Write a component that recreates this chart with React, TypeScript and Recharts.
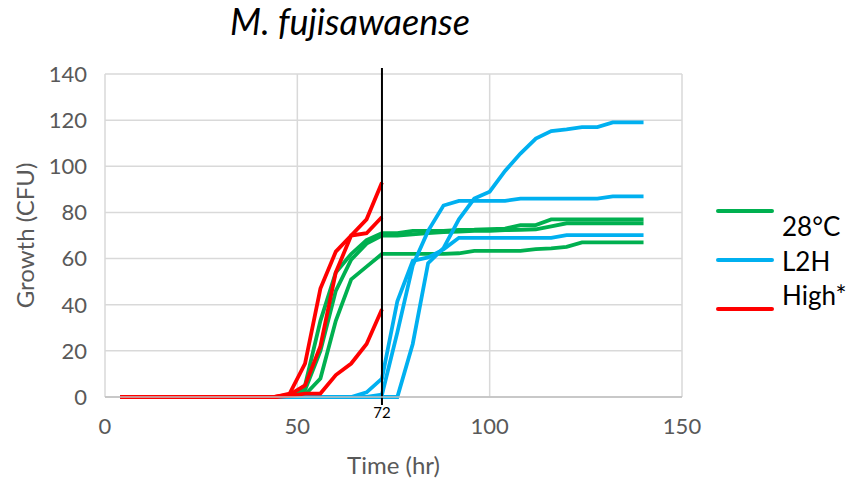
import { LineChart, Line, XAxis, YAxis, CartesianGrid, ReferenceLine, Label } from 'recharts';

document.body.style.margin = '0';

const FONT = 'Lato, "Open Sans", sans-serif';
const GREEN = '#00B050';
const BLUE = '#00B0F0';
const RED = '#FF0000';

// sampling times (hr)
const hours = [4, 8, 12, 16, 20, 24, 28, 32, 36, 40, 44, 48, 52, 56, 60, 64, 68, 72, 76, 80, 84, 88, 92, 96, 100, 104, 108, 112, 116, 120, 124, 128, 132, 136, 140];

// 28°C replicates
const warmA = [0, 0, 0, 0, 0, 0, 0, 0, 0, 0, 0, 0, 5, 33, 54, 62, 68, 71, 71, 72, 72, 72, 72.4, 72.5, 72.8, 73, 74.5, 74.5, 77, 77, 77, 77, 77, 77, 77];
const warmB = [0, 0, 0, 0, 0, 0, 0, 0, 0, 0, 0, 0, 3, 20, 46, 59.5, 66.5, 70, 70, 70.5, 71, 71.5, 71.7, 72, 72, 72.3, 72.5, 72.7, 74, 75.3, 75.3, 75.3, 75.3, 75.3, 75.3];
const warmC = [0, 0, 0, 0, 0, 0, 0, 0, 0, 0, 0, 0, 1, 8, 33, 51, 56.5, 62, 62, 62, 62, 62, 62.3, 63.3, 63.3, 63.3, 63.3, 64.1, 64.4, 65.1, 67, 67, 67, 67, 67];

// L2H replicates
const l2hA = [0, 0, 0, 0, 0, 0, 0, 0, 0, 0, 0, 0, 0, 0, 0, 0, 0, 0, 0, 23, 58, 64.5, 77, 86, 89, 98, 105.5, 112, 115.3, 116, 117, 117, 119, 119, 119];
const l2hB = [0, 0, 0, 0, 0, 0, 0, 0, 0, 0, 0, 0, 0, 0, 0, 0, 0, 1, 28, 57, 72, 83, 85, 85, 85, 85, 86, 86, 86, 86, 86, 86, 87, 87, 87];
const l2hC = [0, 0, 0, 0, 0, 0, 0, 0, 0, 0, 0, 0, 0, 0, 0, 0, 2, 8, 41.5, 59, 60.5, 64, 69, 69, 69, 69, 69, 69, 69, 70.2, 70.2, 70.2, 70.2, 70.2, 70.2];

// High* replicates (stop at 72 h)
const highA = [0, 0, 0, 0, 0, 0, 0, 0, 0, 0, 0, 1.5, 14.5, 47, 63, 70, 77, 93];
const highB = [0, 0, 0, 0, 0, 0, 0, 0, 0, 0, 0, 1, 5, 22, 54, 70, 71, 78];
const highC = [0, 0, 0, 0, 0, 0, 0, 0, 0, 0, 0, 0.5, 1.5, 1.5, 9.5, 14.5, 23, 38];

const xTicks = [0, 50, 100, 150];
const yTicks = [0, 20, 40, 60, 80, 100, 120, 140];
const markerHour = 72;

const legendItems = [
  { name: '28°C', color: GREEN },
  { name: 'L2H', color: BLUE },
  { name: 'High*', color: RED },
];

const rows = hours.map((t, i) => ({
  t,
  g1: warmA[i], g2: warmB[i], g3: warmC[i],
  b1: l2hA[i], b2: l2hB[i], b3: l2hC[i],
  r1: highA[i], r2: highB[i], r3: highC[i],
}));

const series = [
  { key: 'g1', color: GREEN }, { key: 'g2', color: GREEN }, { key: 'g3', color: GREEN },
  { key: 'b1', color: BLUE }, { key: 'b2', color: BLUE }, { key: 'b3', color: BLUE },
  { key: 'r1', color: RED }, { key: 'r2', color: RED }, { key: 'r3', color: RED },
];

const tickStyle = { fill: '#595959', fontSize: 22, fontFamily: FONT };

export default function App() {
  return (
    <div style={{ position: 'relative', width: 858, height: 479, overflow: 'hidden', fontFamily: FONT }}>
      <LineChart width={858} height={479} data={rows} margin={{ top: 74, right: 176, bottom: 0, left: 0 }}>
        <CartesianGrid stroke="#D9D9D9" strokeWidth={1.5} />
        <XAxis
          dataKey="t"
          type="number"
          domain={[0, 150]}
          ticks={xTicks}
          height={82}
          tickSize={0}
          tickMargin={21}
          tickLine={false}
          axisLine={{ stroke: '#BFBFBF', strokeWidth: 1.5 }}
          tick={tickStyle}
        >
          <Label value="Time (hr)" position="insideBottom" offset={5} fill="#595959" fontSize={24} fontFamily={FONT} />
        </XAxis>
        <YAxis
          domain={[0, 140]}
          ticks={yTicks}
          width={105}
          tickSize={0}
          tickMargin={18}
          tickLine={false}
          axisLine={false}
          tick={tickStyle}
        >
          <Label value="Growth (CFU)" angle={-90} position="center" dx={-27} fill="#595959" fontSize={24} fontFamily={FONT} />
        </YAxis>
        {series.map((s) => (
          <Line
            key={s.key}
            type="linear"
            dataKey={s.key}
            stroke={s.color}
            strokeWidth={3.8}
            dot={false}
            activeDot={false}
            isAnimationActive={false}
          />
        ))}
        <ReferenceLine
          x={markerHour}
          stroke="#000"
          strokeWidth={2}
          shape={(p: any) => (
            <line
              x1={p.x1}
              x2={p.x2}
              y1={Math.min(p.y1, p.y2) - 6}
              y2={Math.max(p.y1, p.y2) + 8}
              stroke="#000"
              strokeWidth={2}
            />
          )}
        >
          <Label value={String(markerHour)} position="bottom" offset={10} fill="#000" fontSize={15} fontFamily={FONT} />
        </ReferenceLine>
      </LineChart>
      <svg width={858} height={479} style={{ position: 'absolute', left: 0, top: 0, pointerEvents: 'none' }}>
        <text x={350} y={35} textAnchor="middle" fontSize={36} fontStyle="italic" fontFamily={FONT} fill="#000">
          M. fujisawaense
        </text>
        {legendItems.map((item, i) => (
          <g key={item.name}>
            <line x1={718} x2={772} y1={211 + i * 49} y2={211 + i * 49} stroke={item.color} strokeWidth={4} strokeLinecap="round" />
            <text x={782} y={226 + i * 34.5} dominantBaseline="central" fontSize={26} fontFamily={FONT} fill="#000">
              {item.name}
            </text>
          </g>
        ))}
      </svg>
    </div>
  );
}
